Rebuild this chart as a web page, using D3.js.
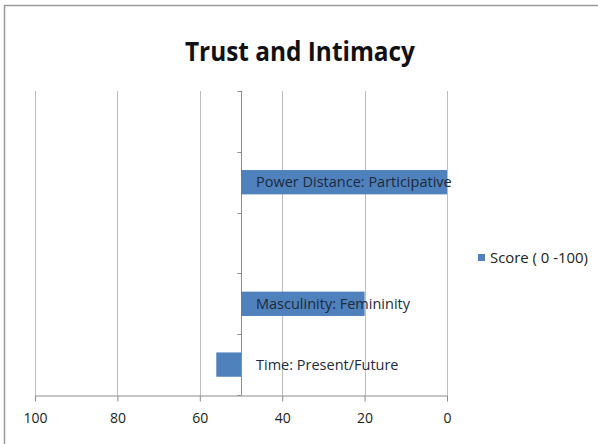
<!DOCTYPE html>
<html>
<head>
<meta charset="utf-8">
<script src="https://cdn.jsdelivr.net/npm/d3@7"></script>
<style>
  html, body { margin: 0; padding: 0; background: #fff; }
  svg { display: block; }
  text { font-family: "Open Sans", "DejaVu Sans", sans-serif; }
</style>
</head>
<body>
<svg id="chart" width="598" height="444"></svg>
<script>
// Categories top to bottom; blank rows have no score
const categories = ["", "Power Distance: Participative", "", "Masculinity: Femininity", "Time: Present/Future"];
const scores = [null, 0, null, 20, 56];
const xTicks = [100, 80, 60, 40, 20, 0];
const chartTitle = "Trust and Intimacy";
const seriesName = "Score ( 0 -100)";

const svg = d3.select("#chart");
const barColor = "#4f81bd";
const gridColor = "#bdbdbd";
const axisColor = "#8c8c8c";

// chart frame (top and left edges)
svg.append("path")
  .attr("d", "M4.5,444 V5.5 H598")
  .attr("fill", "none")
  .attr("stroke", "#9a9a9a")
  .attr("stroke-width", 1.5);

const x = d3.scaleLinear().domain([100, 0]).range([35, 447]);
const y = d3.scaleBand().domain(d3.range(categories.length)).range([91, 395]).paddingInner(0.6).paddingOuter(0.3);
const yBand = d3.scaleBand().domain(d3.range(categories.length)).range([91, 395]);
const crossAt = 50;

// title
svg.append("text")
  .attr("x", 300).attr("y", 61)
  .attr("text-anchor", "middle")
  .attr("font-size", 26).attr("font-weight", "bold")
  .attr("fill", "#111")
  .attr("textLength", 230).attr("lengthAdjust", "spacingAndGlyphs")
  .text(chartTitle);

// vertical gridlines
svg.append("g").selectAll("line").data(xTicks).join("line")
  .attr("x1", d => Math.round(x(d)) + 0.5).attr("x2", d => Math.round(x(d)) + 0.5)
  .attr("y1", 91).attr("y2", 395)
  .attr("stroke", gridColor);

// bottom value axis
const xAxis = d3.axisBottom(x).tickValues(xTicks).tickSize(6).tickSizeOuter(0);
const gx = svg.append("g").attr("transform", "translate(0,395.5)").call(xAxis);
gx.select(".domain").attr("stroke", axisColor);
gx.selectAll(".tick line").attr("stroke", axisColor);
gx.selectAll(".tick text")
  .attr("y", 23).attr("dy", "0.35em")
  .attr("font-size", 14).attr("fill", "#222")
  .attr("font-family", "\"Open Sans\", sans-serif");

// category axis crossing at 50
const yAxisScale = d3.scaleLinear().domain([0, categories.length]).range([91, 395]);
const gy = svg.append("g").attr("transform", `translate(${Math.round(x(crossAt)) + 0.5},0)`);
gy.append("line").attr("y1", 91).attr("y2", 395).attr("stroke", axisColor);
gy.selectAll("line.tk").data(d3.range(categories.length + 1)).join("line")
  .attr("class", "tk")
  .attr("x1", -4).attr("x2", 0)
  .attr("y1", d => Math.round(yAxisScale(d)) + 0.5).attr("y2", d => Math.round(yAxisScale(d)) + 0.5)
  .attr("stroke", axisColor);

// bars, drawn from the crossing value
const rows = categories.map((c, i) => ({ c, i, v: scores[i] })).filter(d => d.v !== null);
svg.append("g").selectAll("rect").data(rows).join("rect")
  .attr("x", d => Math.min(x(d.v), x(crossAt)))
  .attr("width", d => Math.abs(x(d.v) - x(crossAt)))
  .attr("y", d => y(d.i))
  .attr("height", y.bandwidth())
  .attr("fill", barColor);

// category labels beside the axis
svg.append("g").selectAll("text").data(rows).join("text")
  .attr("x", x(crossAt) + 15)
  .attr("y", d => yBand(d.i) + yBand.bandwidth() / 2)
  .attr("dy", "0.35em")
  .attr("font-size", 14.5)
  .attr("fill", "#1e2a3a")
  .text(d => d.c);

// legend
const lg = svg.append("g").attr("transform", "translate(478,254)");
lg.append("rect").attr("width", 7).attr("height", 7).attr("fill", barColor);
lg.append("text").attr("x", 12).attr("y", 4).attr("dy", "0.35em")
  .attr("font-size", 14).attr("fill", "#222")
  .attr("textLength", 98).attr("lengthAdjust", "spacingAndGlyphs")
  .text(seriesName);
</script>
</body>
</html>
